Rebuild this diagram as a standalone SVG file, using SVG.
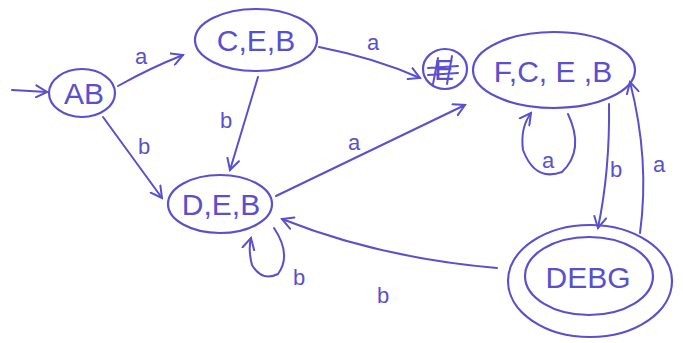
<svg xmlns="http://www.w3.org/2000/svg" width="683" height="343" viewBox="0 0 683 343">
  <defs>
    <style>
      .node { fill: none; stroke: #5a4fcf; stroke-width: 2.2; }
      .edge { fill: none; stroke: #5a4fcf; stroke-width: 2; stroke-linecap: round; }
      .state { fill: #5a4fcf; font-family: "Liberation Sans", "DejaVu Sans", sans-serif; font-size: 30px; text-anchor: middle; }
      .lbl { fill: #5a4fcf; font-family: "Liberation Sans", "DejaVu Sans", sans-serif; font-size: 22px; text-anchor: middle; }
    </style>
    <marker id="arrow" viewBox="0 0 14 14" refX="12" refY="7" markerWidth="14" markerHeight="14" markerUnits="userSpaceOnUse" orient="auto">
      <path d="M1,1 L12,7 L1,13" fill="none" stroke="#5a4fcf" stroke-width="2" stroke-linecap="round"/>
    </marker>
  </defs>
  <rect width="683" height="343" fill="#ffffff"/>

  <!-- transitions -->
  <g id="connectors">
    <path class="edge" d="M12,90 L47,92" marker-end="url(#arrow)"/>
    <path class="edge" d="M118,86 Q150,68 183,55" marker-end="url(#arrow)"/>
    <text class="lbl" x="141" y="64">a</text>
    <path class="edge" d="M103,117 L162,198" marker-end="url(#arrow)"/>
    <text class="lbl" x="144" y="154">b</text>
    <path class="edge" d="M258,77 L230,170" marker-end="url(#arrow)"/>
    <text class="lbl" x="226" y="128">b</text>
    <path class="edge" d="M319,47 Q375,58 420,78" marker-end="url(#arrow)"/>
    <text class="lbl" x="373" y="50">a</text>
    <path class="edge" d="M276,196 L465,105" marker-end="url(#arrow)"/>
    <text class="lbl" x="354" y="150">a</text>
    <path class="edge" d="M568,114 Q585,150 562,172 Q535,182 523,150 Q520,128 531,113" marker-end="url(#arrow)"/>
    <text class="lbl" x="548" y="168">a</text>
    <path class="edge" d="M609,104 Q610,170 598,228" marker-end="url(#arrow)"/>
    <text class="lbl" x="616" y="177">b</text>
    <path class="edge" d="M640,233 Q650,160 630,82" marker-end="url(#arrow)"/>
    <text class="lbl" x="659" y="172">a</text>
    <path class="edge" d="M497,268 Q380,258 282,219" marker-end="url(#arrow)"/>
    <text class="lbl" x="383" y="303">b</text>
    <path class="edge" d="M274,228 Q292,255 278,274 Q262,282 252,265 Q248,250 251,238" marker-end="url(#arrow)"/>
    <text class="lbl" x="299" y="285">b</text>
  </g>

  <!-- states -->
  <g id="state-AB">
    <ellipse class="node" cx="82" cy="93" rx="33" ry="24"/>
    <text class="state" x="84" y="104">AB</text>
  </g>
  <g id="state-CEB">
    <ellipse class="node" cx="256" cy="40" rx="61" ry="31"/>
    <text class="state" x="256" y="51">C,E,B</text>
  </g>
  <g id="state-DEB">
    <ellipse class="node" cx="220" cy="204" rx="52" ry="29"/>
    <text class="state" x="221" y="215">D,E,B</text>
  </g>
  <g id="state-empty">
    <ellipse class="node" cx="445" cy="69" rx="22" ry="20"/>
    <text class="state" x="444" y="80" font-size="26">E</text>
    <path class="edge" d="M438,58 L433,84 M452,56 L447,84 M428,68 L458,66 M428,75 L458,73"/>
  </g>
  <g id="state-FCEB">
    <ellipse class="node" cx="554" cy="70" rx="81" ry="38"/>
    <text class="state" x="553" y="82">F,C, E ,B</text>
  </g>
  <g id="state-DEBG">
    <ellipse class="node" cx="590" cy="281" rx="82" ry="56"/>
    <ellipse class="node" cx="589" cy="276" rx="64" ry="39"/>
    <text class="state" x="588" y="288">DEBG</text>
  </g>
</svg>
